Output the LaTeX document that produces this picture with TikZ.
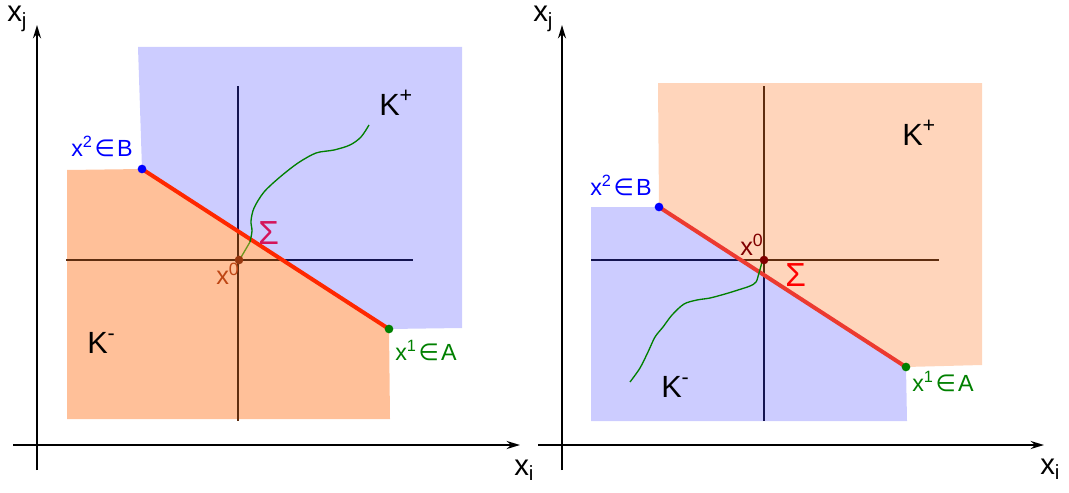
\documentclass[tikz,border=0pt]{standalone}
\usepackage{fontspec}
\setmainfont{Liberation Sans}
\newfontfamily\symfont{DejaVu Sans}
\usetikzlibrary{arrows.meta}
\definecolor{regblue}{RGB}{204,204,255}
\definecolor{regorange}{RGB}{255,192,153}
\definecolor{regpeach}{RGB}{255,213,187}
\definecolor{cutred}{RGB}{255,40,0}
\definecolor{cutredb}{RGB}{236,58,48}
\definecolor{ptblue}{RGB}{0,0,255}
\definecolor{ptgreen}{RGB}{0,128,0}
\definecolor{pathlight}{RGB}{110,150,30}
\definecolor{navyline}{RGB}{20,20,80}
\definecolor{brownline}{RGB}{95,45,15}
\definecolor{sigmacrim}{RGB}{212,20,90}
\definecolor{xzero}{RGB}{190,70,20}
\definecolor{xzerodark}{RGB}{128,0,0}
\newcommand{\elem}{\hspace{1.5pt}{\symfont ∈}\hspace{1.5pt}}

\begin{document}
\begin{tikzpicture}[x=0.75pt, y=-0.75pt,
    axis/.style={line width=1.5pt, -{Stealth[length=10pt, width=6pt]}},
    crossline/.style={line width=1pt},
    cutline/.style={line width=3pt, line cap=round},
    pathline/.style={line width=1pt},
    dot/.style={circle, inner sep=0pt, minimum size=6.5pt},
    axlabel/.style={anchor=base west, inner sep=0pt, font=\fontsize{22}{26}\selectfont},
    klabel/.style={anchor=base west, inner sep=0pt, font=\fontsize{23}{27}\selectfont},
    ptlabel/.style={anchor=base west, inner sep=0pt, font=\fontsize{17.5}{21}\selectfont},
    sigmalabel/.style={anchor=base west, inner sep=0pt, font=\fontsize{25}{29}\selectfont},
    zerolabel/.style={anchor=base west, inner sep=0pt, font=\fontsize{19}{22}\selectfont}]
  \useasboundingbox (0,0) rectangle (1069,492);

  % ---------- left panel ----------
  \coordinate (lB) at (142,169);
  \coordinate (lA) at (389,329);
  \coordinate (lO) at (239,260);
  % regions
  \fill[regblue] (138,47) -- (462,47) -- (462,328) -- (lA) -- (lB) -- cycle;
  \fill[regorange] (67,170) -- (lB) -- (lA) -- (390,419) -- (67,419) -- cycle;
  % axes
  \coordinate (lyb) at (37,470);
  \coordinate (lyt) at (37,25);
  \coordinate (lxl) at (13,445);
  \coordinate (lxr) at (520,445);
  \draw[axis] (lyb) -- (lyt);
  \draw[axis] (lxl) -- (lxr);
  \node[axlabel] (lxj) at (7,22) {x\textsubscript{j}};
  \node[axlabel] (lxi) at (514,475) {x\textsubscript{i}};
  % cross through x0
  \coordinate (lhl) at (66,260);
  \coordinate (lhx) at (282,260);
  \coordinate (lhr) at (413,260);
  \coordinate (lvt) at (238,86);
  \coordinate (lvx) at (238,231);
  \coordinate (lvb) at (238,421);
  \draw[crossline, brownline] (lhl) -- (lhx);
  \draw[crossline, navyline] (lhx) -- (lhr);
  \draw[crossline, navyline] (lvt) -- (lvx);
  \draw[crossline, brownline] (lvx) -- (lvb);
  % separating segment
  \draw[cutline, cutred] (lB) -- (lA);
  % trajectory
  \draw[pathline, pathlight] (240,259) -- (250,242);
  \draw[pathline, ptgreen] plot[smooth] coordinates {(250,242) (252,231) (251,221) (254,208)
    (264,192) (280,177) (298,163) (316,153) (334,150) (350,145) (361,137) (369,125)};
  % points
  \node[dot, fill=ptblue] (lBdot) at (lB) {};
  \node[dot, fill=ptgreen] (lAdot) at (lA) {};
  \node[dot, fill=xzero!80!black] (lOdot) at (lO) {};
  % labels
  \node[ptlabel, ptblue] (lBlab) at (71,156) {x\textsuperscript{2}\elem B};
  \node[ptlabel, ptgreen] (lAlab) at (395,360) {x\textsuperscript{1}\elem A};
  \node[zerolabel, xzero] (lOlab) at (216,284) {x\textsuperscript{0}};
  \node[sigmalabel, sigmacrim] (lsig) at (258,244) {Σ};
  \node[klabel] (lKp) at (379,115) {K\textsuperscript{+}};
  \node[klabel] (lKm) at (87,353) {K\textsuperscript{-}};

  % ---------- right panel ----------
  \coordinate (rB) at (659,207);
  \coordinate (rA) at (906,367);
  \coordinate (rO) at (764,260);
  % regions
  \fill[regpeach] (658,83) -- (982,83) -- (982,365) -- (rA) -- (rB) -- cycle;
  \fill[regblue] (591,207) -- (rB) -- (rA) -- (907,421) -- (591,421) -- cycle;
  % axes
  \coordinate (ryb) at (562,470);
  \coordinate (ryt) at (562,25);
  \coordinate (rxl) at (538,445);
  \coordinate (rxr) at (1044,445);
  \draw[axis] (ryb) -- (ryt);
  \draw[axis] (rxl) -- (rxr);
  \node[axlabel] (rxj) at (533,22) {x\textsubscript{j}};
  \node[axlabel] (rxi) at (1040,474) {x\textsubscript{i}};
  % cross through x0
  \coordinate (rhl) at (591,260);
  \coordinate (rhx) at (741,260);
  \coordinate (rhr) at (939,260);
  \coordinate (rvt) at (764,86);
  \coordinate (rvx) at (764,275);
  \coordinate (rvb) at (764,421);
  \draw[crossline, navyline] (rhl) -- (rhx);
  \draw[crossline, brownline] (rhx) -- (rhr);
  \draw[crossline, brownline] (rvt) -- (rvx);
  \draw[crossline, navyline] (rvx) -- (rvb);
  % separating segment
  \draw[cutline, cutredb] (rB) -- (rA);
  % trajectory
  \draw[pathline, ptgreen] plot[smooth] coordinates {(762,262) (759,273) (756,282) (750,286)
    (738,290) (725,294) (710,298) (697,300) (684,304) (672,315) (663,327) (655,337)
    (648,352) (640,368) (630,382)};
  % points
  \node[dot, fill=ptblue] (rBdot) at (rB) {};
  \node[dot, fill=ptgreen] (rAdot) at (rA) {};
  \node[dot, fill=xzerodark] (rOdot) at (rO) {};
  % labels
  \node[ptlabel, ptblue] (rBlab) at (590,195) {x\textsuperscript{2}\elem B};
  \node[ptlabel, ptgreen] (rAlab) at (912,391) {x\textsuperscript{1}\elem A};
  \node[zerolabel, xzerodark] (rOlab) at (740,255) {x\textsuperscript{0}};
  \node[sigmalabel, red] (rsig) at (785,286) {Σ};
  \node[klabel] (rKp) at (902,145) {K\textsuperscript{+}};
  \node[klabel] (rKm) at (661,397) {K\textsuperscript{-}};
\end{tikzpicture}
\end{document}
